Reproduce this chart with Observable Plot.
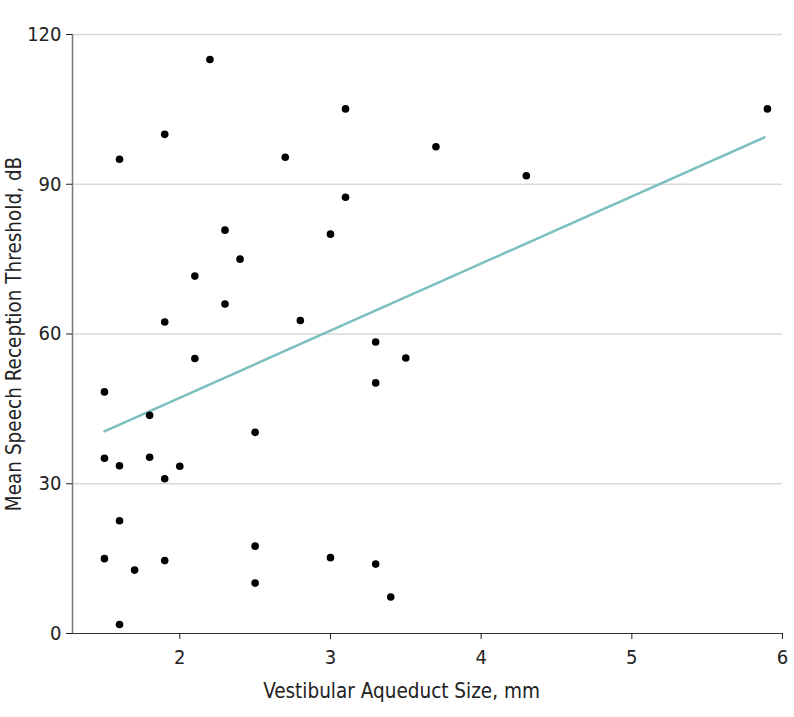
<!DOCTYPE html>
<html><head><meta charset="utf-8">
<script src="https://cdn.jsdelivr.net/npm/d3@7"></script>
<script src="https://cdn.jsdelivr.net/npm/@observablehq/plot@0.6"></script>
<style>
body{margin:0;background:#fff;}
#chart svg{display:block;}
</style>
</head><body><div id="chart"></div>
<script>
const vaSize = [2.2,3.1,5.9,1.9,3.7,1.6,2.7,4.3,3.1,2.3,3.0,2.4,2.1,2.3,1.9,2.8,3.3,2.1,3.5,3.3,1.5,1.8,2.5,1.5,1.8,1.6,2.0,1.9,1.6,2.5,1.5,1.9,3.0,3.3,1.7,2.5,3.4,1.6];
const srt = [115,105.1,105.1,100,97.5,95,95.4,91.7,87.4,80.8,80,75,71.6,66,62.4,62.7,58.4,55.1,55.2,50.2,48.4,43.7,40.3,35.1,35.3,33.6,33.5,31,22.6,17.5,15,14.6,15.2,13.9,12.7,10.1,7.3,1.8];
const fitX = [1.5, 5.88];
const fitY = [40.5, 99.4];
const xTicks = [2,3,4,5,6];
const yTicks = [0,30,60,90,120];

const points = vaSize.map((x,i)=>({x, y: srt[i]}));
const fit = fitX.map((x,i)=>({x, y: fitY[i]}));

const font = "'DejaVu Sans Condensed','Liberation Sans Narrow','DejaVu Sans',sans-serif";
const xMin = 1.288;
const chart = Plot.plot({
  width: 794, height: 717,
  marginLeft: 72, marginRight: 12, marginTop: 34, marginBottom: 84,
  style: {fontFamily: font, fontSize: "20px", color: "#222", background: "#fff"},
  x: {domain: [xMin, 6]},
  y: {domain: [0, 120]},
  marks: [
    Plot.gridY(yTicks.filter(d=>d>0), {stroke: "#d9d9d9", strokeOpacity: 1, strokeWidth: 1.5}),
    Plot.ruleX([xMin], {stroke: "#777", strokeWidth: 1.5}),
    Plot.ruleY([0], {stroke: "#333", strokeWidth: 1.2}),
    Plot.axisX({ticks: xTicks, tickFormat: d3.format("d"), tickSize: 6, tickPadding: 10, fontSize: 20,
      label: "Vestibular Aqueduct Size, mm", labelAnchor: "center", labelOffset: 64, labelArrow: false}),
    Plot.axisY({ticks: yTicks, tickFormat: d3.format("d"), tickSize: 6, tickPadding: 5, fontSize: 20,
      label: "Mean Speech Reception Threshold, dB", labelAnchor: "center", labelOffset: 66, labelArrow: false}),
    Plot.line(fit, {x: "x", y: "y", stroke: "#7dbfbf", strokeWidth: 2.5}),
    Plot.dot(points, {x: "x", y: "y", r: 3.8, fill: "#000", stroke: "none"})
  ]
});
chart.querySelectorAll('[aria-label="x-axis label"], [aria-label="y-axis label"]').forEach(g=>g.setAttribute("font-size","20.5px"));
const xl = chart.querySelector('[aria-label="x-axis label"]');
if (xl) xl.setAttribute("transform", (xl.getAttribute("transform")||"") + " translate(-26,0)");
document.getElementById("chart").appendChild(chart);
</script>
</body></html>
